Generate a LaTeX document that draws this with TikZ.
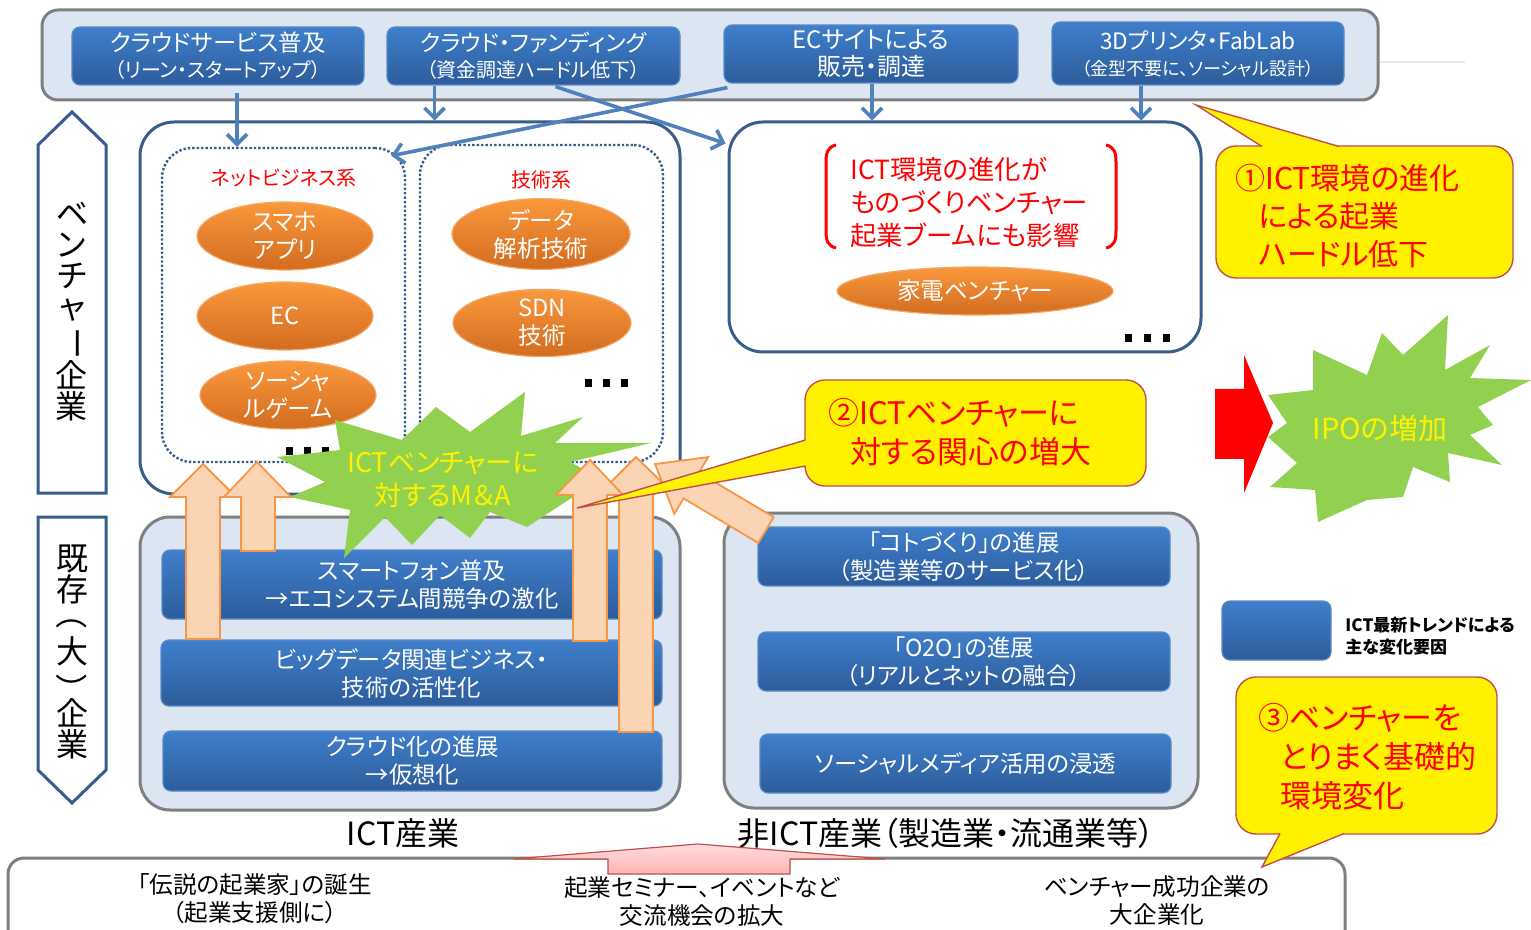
\documentclass[tikz,border=0pt]{standalone}
\usepackage{fontspec}
\usepackage{graphicx}
\setmainfont{Noto Sans CJK JP}[RawFeature=+palt]
\usetikzlibrary{shapes.geometric,arrows.meta,calc}
\definecolor{barfill}{HTML}{DCE6F2}
\definecolor{greyline}{HTML}{7F7F7F}
\definecolor{navy}{HTML}{385D8A}
\definecolor{arrowblue}{HTML}{4F81BD}
\definecolor{btop}{HTML}{3F7FCB}
\definecolor{bbot}{HTML}{2D5C9B}
\definecolor{bedge}{HTML}{5A8AC6}
\definecolor{otop}{HTML}{FA983C}
\definecolor{obot}{HTML}{D26C20}
\definecolor{oedge}{HTML}{F5A866}
\definecolor{peach}{HTML}{FBD4B4}
\definecolor{peachedge}{HTML}{F79646}
\definecolor{burstgreen}{HTML}{92D050}
\definecolor{calledge}{HTML}{C0504D}
\definecolor{pinktop}{HTML}{FFDCDC}
\definecolor{pinkbot}{HTML}{FFB4B4}
\definecolor{faint}{HTML}{EDE8DD}
\begin{document}
\begin{tikzpicture}[x=0.5pt,y=-0.5pt,
  bar/.style={draw=greyline, line width=1.5pt, fill=barfill, rounded corners=8pt, inner sep=0pt},
  bluebox/.style={shade, top color=btop, bottom color=bbot, draw=bedge, line width=0.6pt, rounded corners=4pt, text=white, align=center, inner sep=0pt},
  vbox/.style={draw=navy, line width=1.5pt, fill=white, rounded corners=17pt, inner sep=0pt},
  dotbox/.style={draw=navy, line width=1.2pt, densely dotted, rounded corners=15pt, inner sep=0pt},
  oval/.style={ellipse, shade, top color=otop, bottom color=obot, draw=oedge, line width=0.6pt, text=white, align=center, inner sep=0pt, font=\fontsize{11.8}{14}\selectfont},
  barrow/.style={draw=arrowblue, line width=1.8pt, -{Straight Barb[length=5pt,width=10pt]}},
  oarrow/.style={fill=peach, draw=peachedge, line width=0.9pt, line join=miter},
  callbox/.style={fill=yellow, draw=calledge, line width=0.7pt, rounded corners=10pt, inner sep=0pt},
  calltext/.style={text=red, align=left, inner sep=0pt, font=\fontsize{15.5}{19.5}\selectfont},
  redlabel/.style={text=red, inner sep=0pt, font=\fontsize{10}{12}\selectfont},
  pent/.style={draw=navy, line width=1.5pt, fill=white, line join=miter},
  vtext/.style={align=center, inner sep=0pt, font=\fontsize{16}{15.5}\selectfont},
  plain/.style={align=center, inner sep=0pt, font=\fontsize{11.8}{14}\selectfont},
  boxtext/.style={font=\fontsize{11.7}{14}\selectfont}
]
\clip (0,0) rectangle (1531,930);
\fill[white] (0,0) rectangle (1531,930);

% ---------- top bar ----------
\draw[faint, line width=0.6pt] (1378,62) -- (1465,62);
\node[bar, minimum width=668pt, minimum height=45pt] (topbar) at (710,55) {};
\node[bluebox, minimum width=146pt, minimum height=29pt, font=\fontsize{11.7}{13}\selectfont] (b1) at (218,56)
  {クラウドサービス普及\\{\fontsize{10}{13}\selectfont （リーン・スタートアップ）}};
\node[bluebox, minimum width=146.5pt, minimum height=29pt, font=\fontsize{11.4}{13}\selectfont] (b2) at (533.5,56)
  {クラウド・ファンディング\\{\fontsize{10}{13}\selectfont （資金調達ハードル低下）}};
\node[bluebox, minimum width=147pt, minimum height=29pt, font=\fontsize{12}{13.5}\selectfont] (b3) at (871,54)
  {ECサイトによる\\販売・調達};
\node[bluebox, minimum width=146pt, minimum height=31.5pt, font=\fontsize{11.3}{13}\selectfont] (b4) at (1198,53.5)
  {3Dプリンタ・FabLab\\{\fontsize{9}{12}\selectfont （金型不要に、ソーシャル設計）}};

% ---------- side pentagons ----------
\draw[pent] (38,145) -- (72,112) -- (106,145) -- (106,493) -- (38,493) -- cycle;
\node[vtext] (ventlabel) at (72,312) {ベ\\ン\\チ\\ャ\\\rotatebox[origin=c]{-90}{ー}\\企\\業};
\draw[pent] (38,517) -- (106,517) -- (106,770) -- (72,803) -- (38,770) -- cycle;
\node[vtext] (kizonlabel) at (72,652) {既\\存\\\rotatebox[origin=c]{-90}{（}\\大\\\rotatebox[origin=c]{-90}{）}\\企\\業};

% ---------- venture boxes ----------
\node[vbox, minimum width=270pt, minimum height=186pt] (vent) at (410,308) {};
\node[vbox, minimum width=236pt, minimum height=115pt] (rbox) at (965,237) {};
\node[dotbox, minimum width=121.5pt, minimum height=157pt] (net) at (283.5,305) {};
\node[dotbox, minimum width=121.5pt, minimum height=158.5pt] (tech) at (541.5,303.5) {};
\node[redlabel] (netlabel) at (284,178) {ネットビジネス系};
\node[redlabel] (techlabel) at (541,180) {技術系};
\node[oval, minimum width=88pt, minimum height=34pt] (sumaho) at (285,236) {スマホ\\アプリ};
\node[oval, minimum width=88pt, minimum height=34pt] (ec) at (285,316) {EC};
\node[oval, minimum width=88pt, minimum height=34pt] (social) at (288,395) {ソーシャ\\ルゲーム};
\node[oval, minimum width=89pt, minimum height=31pt] (data) at (541,234) {データ\\解析技術};
\node[oval, minimum width=89pt, minimum height=30pt] (sdn) at (542,323) {SDN\\技術};
\fill (286,447) rectangle +(7,8);
\fill (304,447) rectangle +(7,8);
\fill (322,447) rectangle +(7,8);
\fill (585,379) rectangle +(7,8);
\fill (603,379) rectangle +(7,8);
\fill (621,379) rectangle +(7,8);

% right venture box content
\draw[red, line width=1.5pt] (836,145) .. controls (828,147) and (826,152) .. (826,162) -- (826,231) .. controls (826,241) and (828,246) .. (836,248);
\draw[red, line width=1.5pt] (1106,145) .. controls (1114,147) and (1116,152) .. (1116,162) -- (1116,231) .. controls (1116,241) and (1114,246) .. (1106,248);
\node[text=red, align=left, anchor=west, inner sep=0pt, font=\fontsize{13.2}{16.5}\selectfont] (mono) at (850,202)
  {ICT環境の進化が\\ものづくりベンチャー\\起業ブームにも影響};
\node[oval, minimum width=138pt, minimum height=24pt] (kaden) at (975,291) {家電ベンチャー};
\fill (1125,334) rectangle +(7,8);
\fill (1144,334) rectangle +(7,8);
\fill (1163,334) rectangle +(7,8);

% ---------- existing industries ----------
\node[bar, rounded corners=15pt, minimum width=270pt, minimum height=146.5pt] (ict) at (410,663.5) {};
\node[bar, rounded corners=15pt, minimum width=237pt, minimum height=147.5pt] (nonict) at (961,660.5) {};
\node[bluebox, boxtext, minimum width=250pt, minimum height=34.5pt] (s1) at (412,584.5)
  {スマートフォン普及\\→エコシステム間競争の激化};
\node[bluebox, boxtext, minimum width=250.5pt, minimum height=33pt] (s2) at (411.5,673)
  {ビッグデータ関連ビジネス・\\技術の活性化};
\node[bluebox, boxtext, minimum width=249.5pt, minimum height=30pt] (s3) at (412.5,761)
  {クラウド化の進展\\→仮想化};
\node[bluebox, boxtext, minimum width=206pt, minimum height=29.5pt] (n1) at (964,556.5)
  {「コトづくり」の進展\\（製造業等のサービス化）};
\node[bluebox, boxtext, minimum width=206pt, minimum height=29.5pt] (n2) at (964,661.5)
  {「O2O」の進展\\（リアルとネットの融合）};
\node[bluebox, boxtext, minimum width=205.5pt, minimum height=29.5pt] (n3) at (965.5,763.5)
  {ソーシャルメディア活用の浸透};
\node[inner sep=0pt, font=\fontsize{16}{18}\selectfont] (ictlabel) at (403,833) {ICT産業};
\node[inner sep=0pt, font=\fontsize{16}{18}\selectfont] (nonictlabel) at (946,833) {非ICT産業（製造業・流通業等）};

% ---------- M&A burst ----------
\fill[burstgreen] (335,420) -- (402,440) -- (436,407) -- (470,432) -- (525,392) -- (521,436) -- (583,417)
  -- (555,443) -- (651,443) -- (570,462) -- (622,490) -- (573,497) -- (527,527) -- (490,512) -- (470,538)
  -- (440,515) -- (412,545) -- (385,517) -- (344,558) -- (350,510) -- (290,497) -- (325,482) -- (277,457)
  -- (340,450) -- cycle;
\node[text=yellow, align=center, inner sep=0pt, font=\fontsize{13.5}{16.5}\selectfont] (ma) at (443,480)
  {ICTベンチャーに\\対するM＆A};

% ---------- orange block arrows ----------
\draw[oarrow] (186,639) -- (186,497) -- (170,497) -- (203,464) -- (236,497) -- (220,497) -- (220,639) -- cycle;
\draw[oarrow] (241,551) -- (241,497) -- (224,497) -- (257,462) -- (291,497) -- (275,497) -- (275,551) -- cycle;
\draw[oarrow] (619,732) -- (619,490) -- (603,490) -- (636,457) -- (670,490) -- (653,490) -- (653,732) -- cycle;
\draw[oarrow] (573,641) -- (573,495) -- (556,495) -- (590,460) -- (623,495) -- (607,495) -- (607,641) -- cycle;
\draw[oarrow] (773.7,517.1) -- (698.9,472.6) -- (708.1,457.1) -- (655.1,464.1) -- (674.3,513.9) -- (683.5,498.4) -- (758.3,542.9) -- cycle;

% ---------- blue connectors ----------
\draw[barrow] ($(b1.south)+(19,7)$) coordinate (t1) -- (t1 |- net.north);
\draw[barrow] ($(b2.south)+(-99,0)$) coordinate (t2) -- (t2 |- vent.north);
\draw[barrow] ($(b3.south)+(1,0)$) coordinate (t3) -- (t3 |- rbox.north);
\draw[barrow] ($(b4.south)+(-57,0)$) coordinate (t4) -- (t4 |- rbox.north);
\draw[barrow] ($(b3.south west)+(4,4)$) -- ($(net.north east)+(-15,9)$);
\draw[barrow] ($(b2.south)+(22,1)$) -- ($(rbox.north west)+(-2,23)$);

% ---------- callouts ----------
\node[callbox, minimum width=148.5pt, minimum height=66pt] (c1) at (1364.5,212) {};
\fill[yellow] (1262,150) -- (1262,146) -- (1196,105) -- (1339,146) -- (1339,150) -- cycle;
\draw[calledge, line width=0.7pt] (1262,146.5) -- (1196,105) -- (1339,146.5);
\node[calltext, anchor=west, font=\fontsize{15}{19.2}\selectfont] (c1t) at (1258,216) {\hspace*{-11.5pt}①ICT環境の進化\\による起業\\ハードル低下};

\node[callbox, minimum width=170.5pt, minimum height=53pt] (c2) at (975.5,433) {};
\fill[yellow] (809,440) -- (805,440) -- (577,508) -- (805,466) -- (809,466) -- cycle;
\draw[calledge, line width=0.7pt] (805.5,440) -- (577,508) -- (805.5,466);
\node[calltext, anchor=west] (c2t) at (850,432) {\hspace*{-11pt}②ICTベンチャーに\\対する関心の増大};

% ---------- IPO ----------
\fill[burstgreen] (1268,395) -- (1313,390) -- (1313,350) -- (1367,375) -- (1382,333) -- (1403,355) -- (1448,315)
  -- (1445,370) -- (1490,345) -- (1470,378) -- (1531,380) -- (1478,407) -- (1493,425) -- (1470,435)
  -- (1502,465) -- (1448,453) -- (1450,482) -- (1413,467) -- (1403,497) -- (1367,500) -- (1318,522)
  -- (1315,490) -- (1270,487) -- (1297,463) -- (1268,437) -- (1287,423) -- cycle;
\node[text=yellow, inner sep=0pt, font=\fontsize{14.5}{16}\selectfont] (ipo) at (1380,428) {IPOの増加};
\fill[red] (1215,389) -- (1244,389) -- (1244,355) -- (1273,423) -- (1244,493) -- (1244,459) -- (1215,459) -- cycle;

% ---------- legend ----------
\node[bluebox, minimum width=54.5pt, minimum height=29.5pt] (legbox) at (1276.5,630.5) {};
\node[anchor=west, align=left, inner sep=0pt, font=\fontsize{8.5}{11}\selectfont\bfseries] (legtext) at (1345,636)
  {ICT最新トレンドによる\\主な変化要因};

% ---------- bottom bar ----------
\node[draw=greyline, line width=1.5pt, fill=white, rounded corners=8pt, inner sep=0pt,
  minimum width=668.5pt, minimum height=45pt] (bottombar) at (676.5,903) {};
\path[draw=calledge, line width=0.6pt, top color=pinktop, bottom color=pinkbot]
  (513,859) -- (698,844) -- (885,859) -- (790,859) -- (790,874) -- (608,874) -- (608,859) -- cycle;
\node[plain] (legend1) at (255,899) {「伝説の起業家」の誕生\\（起業支援側に）};
\node[plain] (seminar) at (702,902) {起業セミナー、イベントなど\\交流機会の拡大};
\node[plain] (bigco) at (1157,900) {ベンチャー成功企業の\\大企業化};

% ---------- callout 3 ----------
\node[callbox, minimum width=130.5pt, minimum height=78.5pt] (c3) at (1366.5,755.5) {};
\fill[yellow] (1280,829) -- (1280,833) -- (1262,867) -- (1344,833) -- (1344,829) -- cycle;
\draw[calledge, line width=0.7pt] (1280,833.5) -- (1262,867) -- (1344,833.5);
\node[calltext, anchor=west] (c3t) at (1280,757) {\hspace*{-11pt}③ベンチャーを\\とりまく基礎的\\環境変化};
\end{tikzpicture}
\end{document}
